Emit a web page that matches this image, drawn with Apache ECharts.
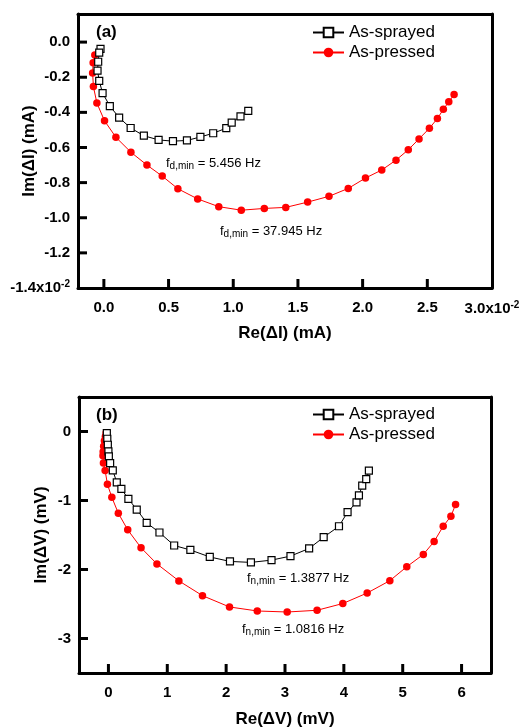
<!DOCTYPE html>
<html>
<head>
<meta charset="utf-8">
<script src="https://cdn.jsdelivr.net/npm/echarts@6/dist/echarts.min.js"></script>
<style>
html,body{margin:0;padding:0;background:#fff;}
#main{width:521px;height:728px;}
</style>
</head>
<body>
<div id="main"></div>
<script>
// panel (a): current, x10^-2 mA
var sprayedIx = [-0.026,-0.036,-0.044,-0.049,-0.036,-0.010,0.046,0.118,0.207,0.309,0.423,0.534,0.642,0.746,0.845,0.946,0.988,1.056,1.116];
var sprayedIy = [-0.038,-0.060,-0.112,-0.162,-0.221,-0.290,-0.364,-0.430,-0.489,-0.533,-0.557,-0.564,-0.560,-0.540,-0.519,-0.490,-0.458,-0.423,-0.392];
var pressedIx = [-0.070,-0.083,-0.087,-0.081,-0.054,0.005,0.093,0.209,0.333,0.451,0.572,0.725,0.888,1.062,1.240,1.406,1.575,1.740,1.889,2.022,2.148,2.258,2.353,2.436,2.516,2.578,2.624,2.666,2.707];
var pressedIy = [-0.074,-0.118,-0.176,-0.253,-0.347,-0.448,-0.542,-0.627,-0.700,-0.763,-0.835,-0.893,-0.937,-0.957,-0.947,-0.941,-0.911,-0.878,-0.833,-0.774,-0.728,-0.672,-0.613,-0.551,-0.491,-0.435,-0.383,-0.340,-0.299];

// panel (b): voltage, mV
var sprayedVx = [-0.027,-0.019,-0.010,0.000,0.007,0.029,0.074,0.142,0.220,0.339,0.481,0.650,0.867,1.117,1.392,1.722,2.065,2.421,2.771,3.093,3.410,3.657,3.917,4.063,4.215,4.256,4.312,4.380,4.425];
var sprayedVy = [-0.023,-0.105,-0.192,-0.289,-0.361,-0.457,-0.564,-0.737,-0.832,-0.977,-1.131,-1.324,-1.464,-1.652,-1.717,-1.818,-1.883,-1.897,-1.864,-1.806,-1.695,-1.532,-1.373,-1.168,-1.026,-0.925,-0.785,-0.691,-0.568];
var pressedVx = [-0.039,-0.052,-0.068,-0.081,-0.090,-0.093,-0.085,-0.056,-0.017,0.058,0.168,0.328,0.554,0.824,1.197,1.598,2.057,2.529,3.037,3.545,3.982,4.396,4.781,5.069,5.350,5.534,5.688,5.819,5.898];
var pressedVy = [-0.019,-0.072,-0.134,-0.214,-0.293,-0.351,-0.457,-0.564,-0.766,-0.954,-1.185,-1.425,-1.685,-1.919,-2.165,-2.379,-2.543,-2.601,-2.616,-2.591,-2.493,-2.341,-2.162,-1.960,-1.782,-1.594,-1.373,-1.228,-1.059];

// axis ranges and tick values
var rangeIx = [-0.2, 3.0];
var rangeIy = [-1.4, 0.16];
var rangeVx = [-0.5, 6.5];
var rangeVy = [-3.5, 0.5];
var ticksIx = [0, 0.5, 1.0, 1.5, 2.0, 2.5];
var labelsIx = [0, 0.5, 1.0, 1.5, 2.0, 2.5, 3.0];
var ticksIy = [0, -0.2, -0.4, -0.6, -0.8, -1.0, -1.2];
var labelsIy = [0, -0.2, -0.4, -0.6, -0.8, -1.0, -1.2, -1.4];
var ticksVx = [0, 1, 2, 3, 4, 5, 6];
var ticksVy = [0, -1, -2, -3];

var names = ['As-sprayed', 'As-pressed'];

function zip(xs, ys){
	var out = [];
	for(var i=0;i<xs.length;i++){
		out.push([xs[i], ys[i]]);
	}
	return out;
}

var font = 'Arial, "Liberation Sans", sans-serif';
var supRich = {
	m:{fontSize:15, fontWeight:'bold', fontFamily:font, color:'#000'},
	s:{fontSize:10, fontWeight:'bold', fontFamily:font, color:'#000', verticalAlign:'top', padding:[0,0,8,0]}
};

var grids = [
	{left:78, top:14, width:414, height:274, show:false, containLabel:false, outerBoundsMode:'none'},
	{left:79, top:397, width:412, height:276, show:false, containLabel:false, outerBoundsMode:'none'}
];

function valueAxis(grid, range, labels, fmt, name, nameGap, isY){
	return {
		type:'value', gridIndex:grid, min:range[0], max:range[1], z:5,
		position: isY ? 'left' : 'bottom',
		name:name, nameLocation:'middle', nameGap:nameGap, nameMoveOverlap:false,
		nameTextStyle:{fontSize:17, fontWeight:'bold', fontFamily:font, color:'#000'},
		axisLine:{show:true, onZero:false, lineStyle:{color:'#000', width:3}},
		splitLine:{show:false},
		axisTick:{show:false},
		axisLabel:{show:true, customValues:labels, formatter:fmt, margin:isY ? 8 : 12, hideOverlap:false,
			fontSize:15, fontWeight:'bold', fontFamily:font, color:'#000', rich:supRich}
	};
}

// plain line for the top / right side of each frame
function frameAxis(grid, range, pos){
	return {
		type:'value', gridIndex:grid, min:range[0], max:range[1], position:pos, z:5,
		axisLine:{show:true, onZero:false, lineStyle:{color:'#000', width:3}},
		axisTick:{show:false}, axisLabel:{show:false}, splitLine:{show:false}
	};
}

function lineSeries(name, xi, yi, data){
	var spray = name == 'As-sprayed';
	return {
		name:name, type:'line', xAxisIndex:xi, yAxisIndex:yi,
		data:data,
		symbol: spray ? 'rect' : 'circle',
		symbolSize: spray ? 7 : 7.5,
		showAllSymbol:true,
		itemStyle: spray ? {color:'#fff', borderColor:'#000', borderWidth:1.2} : {color:'#ff0000', borderWidth:0},
		lineStyle:{color: spray ? '#000' : '#ff0000', width:1},
		z: spray ? 3 : 2,
		animation:false
	};
}

function legendAt(top){
	return {
		data:names, orient:'vertical', left:312, top:top, padding:0,
		itemWidth:31, itemHeight:12, itemGap:3,
		textStyle:{fontSize:17, fontFamily:font, color:'#000'},
		selectedMode:false
	};
}

var subRich = {
	a:{fontSize:13, fontFamily:font, color:'#222'},
	b:{fontSize:10, fontFamily:font, color:'#222', verticalAlign:'bottom', padding:[7,0,0,0]}
};

function note(x, y, sub, val){
	return {
		type:'text', x:x, y:y, z:100,
		style:{text:'{a|f}{b|' + sub + '}{a| = ' + val + '}', rich:subRich, verticalAlign:'middle'}
	};
}

// inward tick marks, placed on the same linear scale as each grid's axes
var marks = [];
function addTicks(g, rx, ry, xs, ys){
	for(var i=0;i<xs.length;i++){
		var px = g.left + (xs[i]-rx[0])/(rx[1]-rx[0])*g.width;
		marks.push({type:'rect', z:50, shape:{x:px-1.5, y:g.top+g.height-9, width:3, height:9}, style:{fill:'#000'}});
	}
	for(var j=0;j<ys.length;j++){
		var py = g.top + g.height - (ys[j]-ry[0])/(ry[1]-ry[0])*g.height;
		marks.push({type:'rect', z:50, shape:{x:g.left, y:py-1.5, width:9, height:3}, style:{fill:'#000'}});
	}
}
addTicks(grids[0], rangeIx, rangeIy, ticksIx, ticksIy);
addTicks(grids[1], rangeVx, rangeVy, ticksVx, ticksVy);

var texts = [
	{type:'text', x:96, y:32, style:{text:'(a)', fontSize:17, fontWeight:'bold', fontFamily:font, fill:'#000', verticalAlign:'middle'}},
	{type:'text', x:96, y:415, style:{text:'(b)', fontSize:17, fontWeight:'bold', fontFamily:font, fill:'#000', verticalAlign:'middle'}},
	note(166, 163, 'd,min', '5.456 Hz'),
	note(220, 231, 'd,min', '37.945 Hz'),
	note(247, 578, 'n,min', '1.3877 Hz'),
	note(242, 629, 'n,min', '1.0816 Hz')
];

var chart = echarts.init(document.getElementById('main'), null, {renderer:'canvas'});

var option = {
	backgroundColor:'#fff',
	animation:false,
	grid:grids,
	xAxis:[
		valueAxis(0, rangeIx, labelsIx, function(v){
			if(Math.abs(v-3.0) < 1e-6){ return '{m|3.0x10}{s|-2}'; }
			return v.toFixed(1);
		}, 'Re(\u0394I) (mA)', 37, false),
		valueAxis(1, rangeVx, ticksVx, function(v){ return String(Math.round(v)); }, 'Re(\u0394V) (mV)', 38, false),
		frameAxis(0, rangeIx, 'top'),
		frameAxis(1, rangeVx, 'top')
	],
	yAxis:[
		valueAxis(0, rangeIy, labelsIy, function(v){
			if(Math.abs(v+1.4) < 1e-6){ return '{m|-1.4x10}{s|-2}'; }
			if(Math.abs(v) < 1e-6){ return '0.0'; }
			return v.toFixed(1);
		}, 'Im(\u0394I) (mA)', 40, true),
		valueAxis(1, rangeVy, ticksVy, function(v){ return String(Math.round(v)); }, 'Im(\u0394V) (mV)', 29, true),
		frameAxis(0, rangeIy, 'right'),
		frameAxis(1, rangeVy, 'right')
	],
	legend:[legendAt(24), legendAt(406)],
	series:[
		lineSeries('As-sprayed', 0, 0, zip(sprayedIx, sprayedIy)),
		lineSeries('As-pressed', 0, 0, zip(pressedIx, pressedIy)),
		lineSeries('As-sprayed', 1, 1, zip(sprayedVx, sprayedVy)),
		lineSeries('As-pressed', 1, 1, zip(pressedVx, pressedVy))
	],
	graphic:texts.concat(marks)
};
chart.setOption(option);
</script>
</body>
</html>
